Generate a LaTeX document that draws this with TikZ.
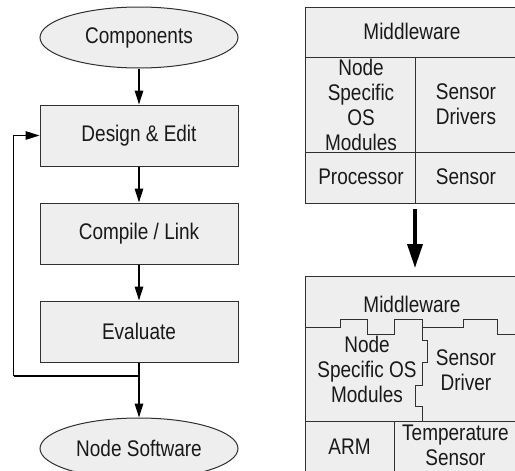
\documentclass[tikz,border=0pt]{standalone}
\usepackage{fontspec}
\setmainfont[FakeStretch=0.84]{Liberation Sans}
\usetikzlibrary{arrows.meta,shapes.geometric}
\definecolor{cellfill}{HTML}{EEEEEE}
\definecolor{edgecol}{HTML}{303030}
\tikzset{
  txt/.style={font=\fontsize{22.6}{25}\selectfont,align=center,inner sep=0pt,text=black!90},
  flowbox/.style={txt,draw=edgecol,fill=cellfill,line width=1pt,rectangle,minimum width=198pt,minimum height=61pt},
  flowoval/.style={txt,draw=edgecol,fill=cellfill,line width=1pt,ellipse,minimum width=198pt,minimum height=61pt},
  flowline/.style={draw=black,line width=1.5pt,-{Triangle[length=14pt,width=8.5pt]}},
  plainline/.style={draw=black,line width=1.5pt},
  cell/.style={draw=edgecol,fill=cellfill,line width=1pt},
  seam/.style={draw=edgecol,line width=1pt},
  bigarrow/.style={draw=black,line width=3.6pt,-{Triangle[length=24pt,width=15pt]}}
}
\begin{document}
\begin{tikzpicture}[x=1pt,y=-1pt]
\useasboundingbox (0,0) rectangle (515,471);
\clip (0,0) rectangle (515,471);
% flow chart
\node[flowoval] (components) at (139,37.5) {Components};
\node[flowbox] (design) at (139,135.5) {Design \& Edit};
\node[flowbox] (compile) at (139,233.5) {Compile / Link};
\node[flowbox] (evaluate) at (139,331.5) {Evaluate};
\node[flowoval] (software) at (139,448.5) {Node Software};
\coordinate (junction) at (139,376);
\coordinate (backcorner) at (13.5,376);
\draw[flowline] (components) -- (design);
\draw[flowline] (design) -- (compile);
\draw[flowline] (compile) -- (evaluate);
\draw[flowline] (evaluate) -- (software);
\draw[plainline] (junction) -- (backcorner);
\draw[flowline] (backcorner) |- (design.west);
% upper stack
\fill[cell] (305,7) rectangle (525,203);
\draw[seam] (305,57) -- (525,57);
\draw[seam] (305,152) -- (525,152);
\draw[seam] (415,57) -- (415,203);
\node[txt] (mwa) at (412,31) {Middleware};
\node[txt] (osa) at (361,104.5) {Node\\Specific\\OS\\Modules};
\node[txt] (drva) at (466,104.5) {Sensor\\Drivers};
\node[txt] (proca) at (361,177) {Processor};
\node[txt] (sena) at (466,177) {Sensor};
% big arrow
\coordinate (bigtop) at (415,209);
\coordinate (bigtip) at (415,268);
\draw[bigarrow] (bigtop) -- (bigtip);
% lower stack
\fill[cell] (305,276) rectangle (525,480);
\draw[seam] (305,327) -- (340,327) -- (340,319.5) -- (367.5,319.5) -- (367.5,334) -- (394.5,334) -- (394.5,319.5) -- (422,319.5) -- (422,327) -- (463,327) -- (463,319.5) -- (497,319.5) -- (497,334) -- (525,334);
\draw[seam] (422,327) -- (422,340) -- (427,340) -- (427,362) -- (422,362) -- (422,385) -- (415,385) -- (415,406) -- (422,406) -- (422,421);
\draw[seam] (305,421) -- (525,421);
\draw[seam] (394.5,421) -- (394.5,480);
\node[txt] (mwb) at (412,304) {Middleware};
\node[txt] (osb) at (367,369.5) {Node\\Specific OS\\Modules};
\node[txt] (drvb) at (466,370) {Sensor\\Driver};
\node[txt] (armb) at (349.5,446.5) {ARM};
\node[txt] (senb) at (455.5,445.5) {Temperature\\Sensor};
\end{tikzpicture}
\end{document}
